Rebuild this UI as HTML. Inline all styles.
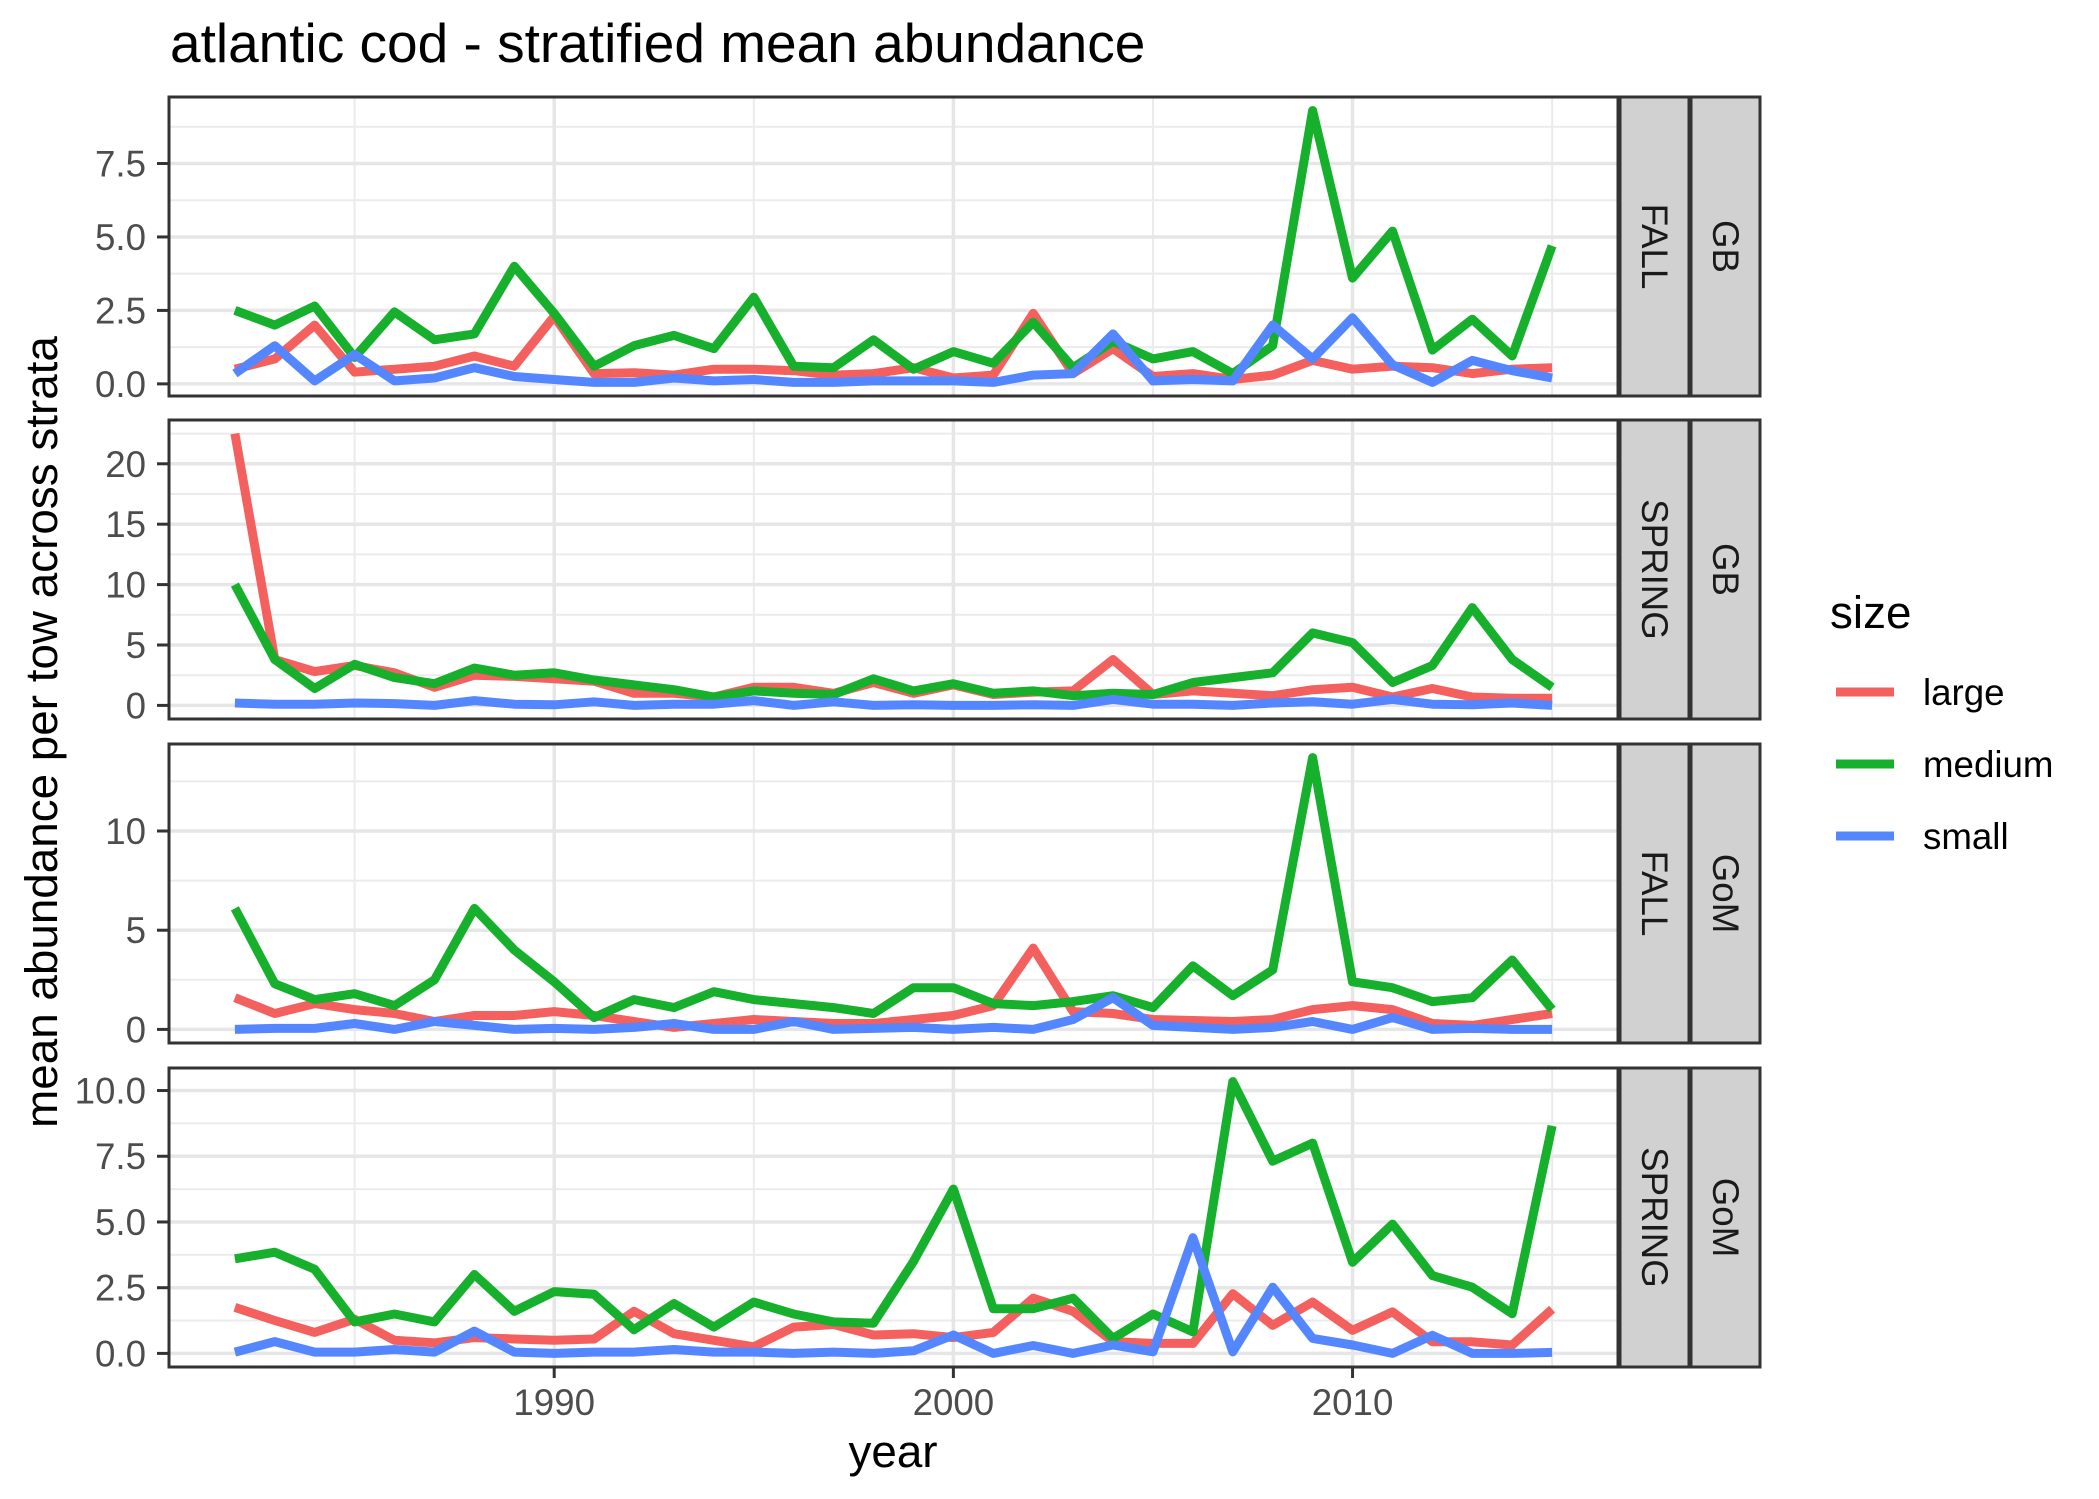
<!DOCTYPE html>
<html><head><meta charset="utf-8">
<style>
html,body{margin:0;padding:0;background:#fff;}
svg{display:block;font-family:"Liberation Sans",Arial,sans-serif;}
</style></head>
<body>
<svg id="chart" width="2099" height="1499" viewBox="0 0 2099 1499" xmlns="http://www.w3.org/2000/svg">
<rect width="2099" height="1499" fill="#fff"/>
<text x="170" y="62" font-size="55" fill="#000">atlantic cod - stratified mean abundance</text>
<text transform="translate(57,732) rotate(-90)" text-anchor="middle" font-size="45.8" fill="#000">mean abundance per tow across strata</text>
<text x="893" y="1467" text-anchor="middle" font-size="45.8" fill="#000">year</text>
<g id="panels"></g>
<g>
<text x="1830" y="628" font-size="45.8" fill="#000">size</text>
<g><line x1="1836" y1="692" x2="1894" y2="692" stroke="#F3605E" stroke-width="9"/><text x="1923" y="705" font-size="36.7" fill="#000">large</text></g>
<g><line x1="1836" y1="764" x2="1894" y2="764" stroke="#17B02D" stroke-width="9"/><text x="1923" y="777" font-size="36.7" fill="#000">medium</text></g>
<g><line x1="1836" y1="836" x2="1894" y2="836" stroke="#5487FF" stroke-width="9"/><text x="1923" y="849" font-size="36.7" fill="#000">small</text></g>
</g>
</svg>
<script>
// ---- data ----
const years = [1982,1983,1984,1985,1986,1987,1988,1989,1990,1991,1992,1993,1994,1995,1996,1997,1998,1999,2000,2001,2002,2003,2004,2005,2006,2007,2008,2009,2010,2011,2012,2013,2014,2015];
const xTicks = [1990,2000,2010];
const xTickLabels = ["1990","2000","2010"];
const xMinor = [1985,1995,2005,2015];
const seriesNames = ["large","medium","small"];
const seasons = ["FALL","SPRING","FALL","SPRING"];
const regions = ["GB","GB","GoM","GoM"];

const fallGbLarge  = [0.5,0.85,2.0,0.4,0.5,0.6,0.95,0.6,2.3,0.35,0.38,0.3,0.5,0.5,0.45,0.3,0.35,0.55,0.2,0.3,2.4,0.35,1.2,0.25,0.35,0.15,0.3,0.8,0.5,0.6,0.55,0.35,0.5,0.55];
const fallGbMedium = [2.5,2.0,2.65,0.9,2.45,1.5,1.7,4.0,2.4,0.6,1.3,1.65,1.2,2.95,0.6,0.55,1.5,0.5,1.1,0.7,2.1,0.55,1.45,0.85,1.1,0.35,1.3,9.3,3.6,5.2,1.15,2.2,0.95,4.7];
const fallGbSmall  = [0.35,1.3,0.1,1.0,0.1,0.2,0.55,0.25,0.15,0.05,0.05,0.2,0.1,0.15,0.05,0.05,0.1,0.1,0.1,0.05,0.3,0.35,1.7,0.1,0.15,0.1,2.0,0.85,2.25,0.65,0.05,0.8,0.45,0.2];

const springGbLarge  = [22.5,3.8,2.8,3.3,2.7,1.5,2.5,2.4,2.2,2.0,1.0,1.0,0.7,1.5,1.5,1.0,1.9,1.0,1.7,0.9,1.1,1.2,3.8,0.9,1.2,1.0,0.8,1.3,1.5,0.7,1.4,0.7,0.6,0.6];
const springGbMedium = [10.0,3.8,1.4,3.4,2.3,1.8,3.1,2.5,2.7,2.1,1.7,1.3,0.7,1.2,1.0,0.9,2.2,1.2,1.8,1.0,1.2,0.8,1.0,0.9,1.9,2.3,2.7,6.0,5.2,1.9,3.3,8.1,3.8,1.5];
const springGbSmall  = [0.2,0.1,0.1,0.2,0.15,0.0,0.4,0.1,0.05,0.3,0.0,0.1,0.1,0.4,0.0,0.3,0.0,0.05,0.0,0.0,0.05,0.0,0.5,0.1,0.1,0.0,0.2,0.3,0.1,0.5,0.1,0.05,0.2,0.0];

const fallGomLarge  = [1.6,0.8,1.3,1.0,0.8,0.4,0.7,0.7,0.9,0.7,0.4,0.1,0.3,0.5,0.4,0.3,0.3,0.5,0.7,1.2,4.1,0.9,0.8,0.5,0.45,0.4,0.5,1.0,1.2,1.0,0.3,0.2,0.5,0.8];
const fallGomMedium = [6.1,2.3,1.5,1.8,1.2,2.5,6.1,4.0,2.4,0.6,1.5,1.1,1.9,1.5,1.3,1.1,0.8,2.1,2.1,1.3,1.2,1.4,1.7,1.1,3.2,1.7,3.0,13.7,2.4,2.1,1.4,1.6,3.5,1.0];
const fallGomSmall  = [0.0,0.05,0.05,0.3,0.0,0.4,0.2,0.0,0.05,0.0,0.1,0.3,0.0,0.0,0.4,0.0,0.05,0.1,0.0,0.1,0.0,0.5,1.6,0.2,0.1,0.0,0.1,0.4,0.0,0.6,0.0,0.05,0.0,0.0];

const springGomLarge  = [1.75,1.25,0.8,1.3,0.5,0.4,0.6,0.55,0.5,0.55,1.6,0.75,0.5,0.25,1.0,1.1,0.7,0.75,0.6,0.8,2.1,1.6,0.45,0.38,0.38,2.27,1.07,1.95,0.88,1.58,0.44,0.44,0.32,1.68];
const springGomMedium = [3.6,3.85,3.2,1.2,1.5,1.2,3.0,1.6,2.35,2.25,0.9,1.9,1.0,1.95,1.5,1.2,1.15,3.5,6.25,1.7,1.7,2.1,0.57,1.5,0.82,10.34,7.31,8.0,3.47,4.92,2.96,2.52,1.51,8.66];
const springGomSmall  = [0.05,0.45,0.05,0.05,0.15,0.05,0.85,0.05,0.0,0.05,0.05,0.15,0.05,0.05,0.0,0.05,0.0,0.1,0.7,0.0,0.3,0.0,0.32,0.06,4.4,0.06,2.52,0.57,0.32,0.0,0.69,0.0,0.0,0.04];

const panelSeries = [
  [fallGbLarge, fallGbMedium, fallGbSmall],
  [springGbLarge, springGbMedium, springGbSmall],
  [fallGomLarge, fallGomMedium, fallGomSmall],
  [springGomLarge, springGomMedium, springGomSmall]
];
const yTicks0 = [0,2.5,5,7.5];
const yTicks1 = [0,5,10,15,20];
const yTicks2 = [0,5,10];
const yTicks3 = [0,2.5,5,7.5,10];
const yTickLabels0 = ["0.0","2.5","5.0","7.5"];
const yTickLabels1 = ["0","5","10","15","20"];
const yTickLabels2 = ["0","5","10"];
const yTickLabels3 = ["0.0","2.5","5.0","7.5","10.0"];
const panelTicks = [yTicks0,yTicks1,yTicks2,yTicks3];
const panelTickLabels = [yTickLabels0,yTickLabels1,yTickLabels2,yTickLabels3];

// ---- layout ----
const NS = "http://www.w3.org/2000/svg";
const colors = ["#F3605E","#17B02D","#5487FF"];
const PL = 169, PR = 1618;
const panelTops = [97,420,744,1068];
const PH = 299;
const xMin = Math.min(...years), xMax = Math.max(...years);
const xPad = (xMax - xMin) * 0.05;
function xScale(v){ return PL + (v - (xMin - xPad)) / ((xMax + xPad) - (xMin - xPad)) * (PR - PL); }

function mk(tag, attrs, parent){
  const e = document.createElementNS(NS, tag);
  for (const k in attrs) e.setAttribute(k, attrs[k]);
  parent.appendChild(e);
  return e;
}
const root = document.getElementById("panels");

panelSeries.forEach((series, p) => {
  const top = panelTops[p], bot = top + PH;
  let lo = Infinity, hi = -Infinity;
  series.forEach(s => s.forEach(v => { lo = Math.min(lo, v); hi = Math.max(hi, v); }));
  const pad = (hi - lo) * 0.05;
  const dLo = lo - pad, dHi = hi + pad;
  const yScale = v => bot - (v - dLo) / (dHi - dLo) * PH;

  const g = mk("g", {}, root);
  
  
  const bg = mk("rect", {x:PL, y:top, width:PR-PL, height:PH, fill:"#fff"}, g);
  
  

  const ticks = panelTicks[p];
  const step = ticks[1] - ticks[0];
  // minor y grid
  for (let m = ticks[0] - step/2; m <= dHi; m += step) {
    if (m < dLo) continue;
    const ln = mk("line", {x1:PL, x2:PR, y1:yScale(m), y2:yScale(m), stroke:"#EBEBEB", "stroke-width":2}, g);
    
    
  }
  xMinor.forEach(yr => {
    const ln = mk("line", {x1:xScale(yr), x2:xScale(yr), y1:top, y2:bot, stroke:"#EBEBEB", "stroke-width":2}, g);
    
    
  });
  ticks.forEach((t, i) => {
    const y = yScale(t);
    const ln = mk("line", {x1:PL, x2:PR, y1:y, y2:y, stroke:"#E6E6E6", "stroke-width":3.5}, g);
    
    
    const tk = mk("line", {x1:157, x2:PL, y1:y, y2:y, stroke:"#333", "stroke-width":3}, g);
    
    
    const tx = mk("text", {x:146, y:y+13, "text-anchor":"end", "font-size":36.7, fill:"#4D4D4D"}, g);
    tx.textContent = panelTickLabels[p][i];
    
    
  });
  xTicks.forEach(yr => {
    const ln = mk("line", {x1:xScale(yr), x2:xScale(yr), y1:top, y2:bot, stroke:"#E6E6E6", "stroke-width":3.5}, g);
    
    
  });
  // series
  series.forEach((vals, si) => {
    const pts = vals.map((v, i) => xScale(years[i]).toFixed(1) + "," + yScale(v).toFixed(1)).join(" ");
    const pl = mk("polyline", {points:pts, fill:"none", stroke:colors[si], "stroke-width":9, "stroke-linejoin":"round"}, g);
    
    
  });
  const border = mk("rect", {x:PL, y:top, width:PR-PL, height:PH, fill:"none", stroke:"#333", "stroke-width":3}, g);
  
  

  // strips
  const s1 = mk("rect", {x:1620, y:top, width:69, height:PH, fill:"#D1D1D1", stroke:"#333", "stroke-width":3}, g);
  
  
  const s2 = mk("rect", {x:1691, y:top, width:69, height:PH, fill:"#D1D1D1", stroke:"#333", "stroke-width":3}, g);
  
  
  const cy = top + PH/2;
  const t1 = mk("text", {transform:"translate(1642," + cy + ") rotate(90)", "text-anchor":"middle", "font-size":36.7, fill:"#1A1A1A"}, g);
  t1.textContent = seasons[p];
  
  
  const t2 = mk("text", {transform:"translate(1713," + cy + ") rotate(90)", "text-anchor":"middle", "font-size":36.7, fill:"#1A1A1A"}, g);
  t2.textContent = regions[p];
  
  
});

// x axis
const botY = panelTops[3] + PH;
xTicks.forEach((yr, i) => {
  const tk = mk("line", {x1:xScale(yr), x2:xScale(yr), y1:botY, y2:botY+11, stroke:"#333", "stroke-width":3}, root);
  
  
  const tx = mk("text", {x:xScale(yr), y:1415, "text-anchor":"middle", "font-size":36.7, fill:"#4D4D4D"}, root);
  tx.textContent = xTickLabels[i];
  
  
});
</script>
</body></html>
